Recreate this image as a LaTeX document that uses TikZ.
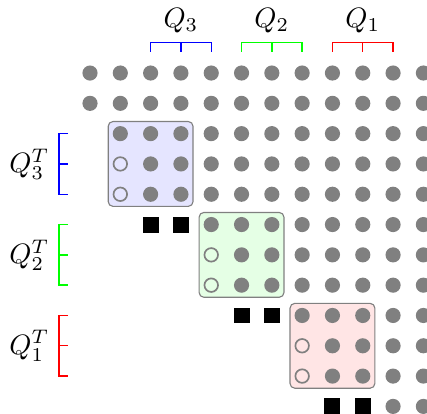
\documentclass[tikz,border=0pt]{standalone}
\usepackage{amsmath}
\usepackage{tikz}

\begin{document}
\begin{tikzpicture}
	[x=0.38cm, y=0.38cm,
	dot/.style ={circle, fill=gray, inner sep=0pt, minimum size=0.19cm},
	hole/.style ={circle, draw=gray, semithick, inner sep=0pt, minimum size=0.17cm},
	sq/.style ={rectangle, fill=black, inner sep=0pt, minimum size=0.2cm},
	qbox/.style ={rectangle, draw=gray, rounded corners=0.06cm, inner sep=0pt, minimum size=1.064cm},
	brace/.style ={line width=0.5pt}];
	\useasboundingbox (-2.97,2.41) rectangle (11.12,-11.25);
	% shaded blocks
	\node [qbox, fill=blue!10] (box3) at (2,-3) {};
	\node [qbox, fill=green!10] (box2) at (5,-6) {};
	\node [qbox, fill=red!10] (box1) at (8,-9) {};
	% first two rows
	\foreach \r in {0,1}
		\foreach \c in {0,...,11}
			\node [dot] (d-\r-\c) at (\c,-\r) {};
	% rows of each block
	\foreach \o/\clr/\n in {0/blue/3, 3/green/2, 6/red/1} {
		\pgfmathtruncatemacro\s{1+\o}
		\pgfmathtruncatemacro\u{2+\o}
		\pgfmathtruncatemacro\v{3+\o}
		\pgfmathtruncatemacro\x{4+\o}
		\pgfmathtruncatemacro\w{5+\o}
		\foreach \c in {\s,...,11}
			\node [dot] (d-\u-\c) at (\c,-\u) {};
		\foreach \r in {3,4} {
			\pgfmathtruncatemacro\rr{\r+\o}
			\node [hole] (d-\rr-\s) at (\s,-\rr) {};
			\foreach \c in {\u,...,11}
				\node [dot] (d-\rr-\c) at (\c,-\rr) {};
		}
		\node [sq] (s-\w-a) at (\u,-\w) {};
		\node [sq] (s-\w-b) at (\v,-\w) {};
		% brackets and labels
		\draw [brace, color=\clr] (\u,0.7) -- (\u,1) -- (\x,1) -- (\x,0.7);
		\draw [brace, color=\clr] (\v,1) -- (\v,0.7);
		\node [anchor=south] (q\n) at (\v,1) {$Q_\n$};
		\draw [brace, color=\clr] (-0.72,-\u) -- (-1.02,-\u) -- (-1.02,-\x) -- (-0.72,-\x);
		\draw [brace, color=\clr] (-1.02,-\v) -- (-0.72,-\v);
		\node [anchor=east] (qt\n) at (-1.02,-\v) {$Q_\n^T$};
	}
	% last row
	\node [dot] (d-11-10) at (10,-11) {};
	\node [dot] (d-11-11) at (11,-11) {};
\end{tikzpicture}
\end{document}
